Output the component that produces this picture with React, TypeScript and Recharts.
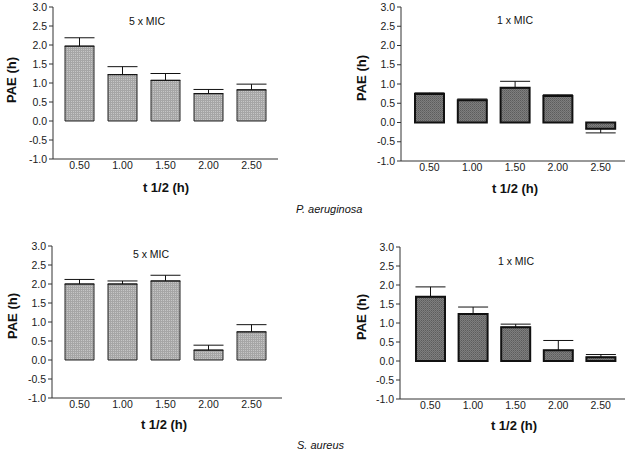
import React from 'react';
import { BarChart, Bar, XAxis, YAxis, ErrorBar } from 'recharts';

const halfLives = ['0.50', '1.00', '1.50', '2.00', '2.50'];
const yTicks = [-1, -0.5, 0, 0.5, 1, 1.5, 2, 2.5, 3];

const paeAeruginosa5x = [1.97, 1.22, 1.07, 0.72, 0.82];
const errAeruginosa5x = [0.22, 0.21, 0.18, 0.11, 0.15];
const paeAeruginosa1x = [0.74, 0.58, 0.9, 0.69, -0.16];
const errAeruginosa1x = [0.03, 0.03, 0.17, 0.03, 0.11];
const paeAureus5x = [2.0, 2.0, 2.08, 0.26, 0.74];
const errAureus5x = [0.12, 0.08, 0.15, 0.13, 0.19];
const paeAureus1x = [1.69, 1.24, 0.89, 0.28, 0.1];
const errAureus1x = [0.26, 0.18, 0.08, 0.26, 0.07];

const FONT = '"Liberation Sans", Arial, Helvetica, sans-serif';

function build(values: number[], errs: number[]) {
  return halfLives.map((x, i) => ({
    x,
    v: values[i],
    e: values[i] < 0 ? [errs[i], 0] : [0, errs[i]],
  }));
}

type PanelProps = {
  id: string;
  values: number[];
  errs: number[];
  left: number;
  top: number;
  width: number;
  height: number;
  yAxisWidth: number;
  marginTop: number;
  marginRight: number;
  marginBottom: number;
  padL: number;
  padR: number;
  dark: boolean;
};

function Panel(p: PanelProps) {
  const data = build(p.values, p.errs);
  const pid = 'pat-' + p.id;
  return (
    <div style={{ position: 'absolute', left: p.left, top: p.top }}>
      <BarChart
        width={p.width}
        height={p.height}
        data={data}
        margin={{ top: p.marginTop, right: p.marginRight, bottom: p.marginBottom, left: 0 }}
        barSize={29}
      >
        <defs>
          {p.dark ? (
            <pattern id={pid} patternUnits="userSpaceOnUse" width="2" height="2">
              <rect x="0" y="0" width="2" height="2" fill="#7e7e7e" />
              <rect x="0" y="0" width="1" height="1" fill="#5c5c5c" />
              <rect x="1" y="1" width="1" height="1" fill="#6a6a6a" />
            </pattern>
          ) : (
            <pattern id={pid} patternUnits="userSpaceOnUse" width="2" height="2">
              <rect x="0" y="0" width="2" height="2" fill="#c6c6c6" />
              <rect x="0" y="0" width="2" height="1" fill="#a6a6a6" />
              <rect x="0" y="0" width="1" height="2" fill="#a6a6a6" />
            </pattern>
          )}
        </defs>
        <XAxis
          dataKey="x"
          type="category"
          height={20}
          padding={{ left: p.padL, right: p.padR }}
          tickLine={false}
          tickSize={0}
          tickMargin={3}
          axisLine={{ stroke: '#333', strokeWidth: 1 }}
          tick={{ fill: '#1a1a1a', fontSize: 10.5, fontFamily: FONT }}
          interval={0}
        />
        <YAxis
          type="number"
          domain={[-1, 3]}
          ticks={yTicks}
          width={p.yAxisWidth}
          tickSize={4}
          tickMargin={2}
          tickFormatter={(v: number) => v.toFixed(1)}
          axisLine={{ stroke: '#333', strokeWidth: 1 }}
          tickLine={{ stroke: '#333', strokeWidth: 1 }}
          tick={{ fill: '#1a1a1a', fontSize: 10.5, fontFamily: FONT }}
          allowDataOverflow
        />
        <Bar
          dataKey="v"
          fill={`url(#${pid})`}
          stroke={p.dark ? '#111' : '#222'}
          strokeWidth={p.dark ? 2 : 1}
          isAnimationActive={false}
        >
          <ErrorBar dataKey="e" width={15} stroke="#111" strokeWidth={1} direction="y" isAnimationActive={false} />
        </Bar>
      </BarChart>
    </div>
  );
}

function Txt({ x, y, children, size, bold, italic, rotate, anchorLeft }: any) {
  return (
    <div
      style={{
        position: 'absolute',
        left: x,
        top: y,
        transform: `translate(${anchorLeft ? '0' : '-50%'}, -50%)${rotate ? ' rotate(-90deg)' : ''}`,
        fontFamily: FONT,
        fontSize: size,
        fontWeight: bold ? 'bold' : 'normal',
        fontStyle: italic ? 'italic' : 'normal',
        color: '#111',
        whiteSpace: 'nowrap',
        lineHeight: 1,
      }}
    >
      {children}
    </div>
  );
}

export default function App() {
  return (
    <div style={{ position: 'absolute', left: 0, top: 0, width: 636, height: 460, background: '#fff', overflow: 'hidden' }}>
      <Panel id="tl" values={paeAeruginosa5x} errs={errAeruginosa5x} left={0} top={0} width={300} height={200}
        yAxisWidth={53} marginTop={7} marginRight={22} marginBottom={21} padL={5} padR={5} dark={false} />
      <Panel id="tr" values={paeAeruginosa1x} errs={errAeruginosa1x} left={348} top={0} width={288} height={200}
        yAxisWidth={53} marginTop={7} marginRight={11} marginBottom={19} padL={7} padR={3} dark={true} />
      <Panel id="bl" values={paeAureus5x} errs={errAureus5x} left={0} top={239} width={300} height={200}
        yAxisWidth={52} marginTop={7} marginRight={18} marginBottom={21} padL={6} padR={9} dark={false} />
      <Panel id="br" values={paeAureus1x} errs={errAureus1x} left={347} top={240} width={289} height={200}
        yAxisWidth={53} marginTop={7} marginRight={11} marginBottom={21} padL={9} padR={3} dark={true} />

      <Txt x={147} y={21} size={10.5}>5 x MIC</Txt>
      <Txt x={515} y={20} size={10.5}>1 x MIC</Txt>
      <Txt x={151} y={254} size={10.5}>5 x MIC</Txt>
      <Txt x={516} y={261} size={10.5}>1 x MIC</Txt>

      <Txt x={11} y={80} size={13} bold rotate>PAE (h)</Txt>
      <Txt x={361} y={78} size={13} bold rotate>PAE (h)</Txt>
      <Txt x={12} y={316} size={13} bold rotate>PAE (h)</Txt>
      <Txt x={361} y={317} size={13} bold rotate>PAE (h)</Txt>

      <Txt x={166} y={187} size={13} bold>t 1/2 (h)</Txt>
      <Txt x={515} y={188} size={13} bold>t 1/2 (h)</Txt>
      <Txt x={164} y={424} size={13} bold>t 1/2 (h)</Txt>
      <Txt x={514} y={425} size={13} bold>t 1/2 (h)</Txt>

      <Txt x={296} y={209} size={11} italic anchorLeft>P. aeruginosa</Txt>
      <Txt x={297} y={445} size={11} italic anchorLeft>S. aureus</Txt>
    </div>
  );
}
